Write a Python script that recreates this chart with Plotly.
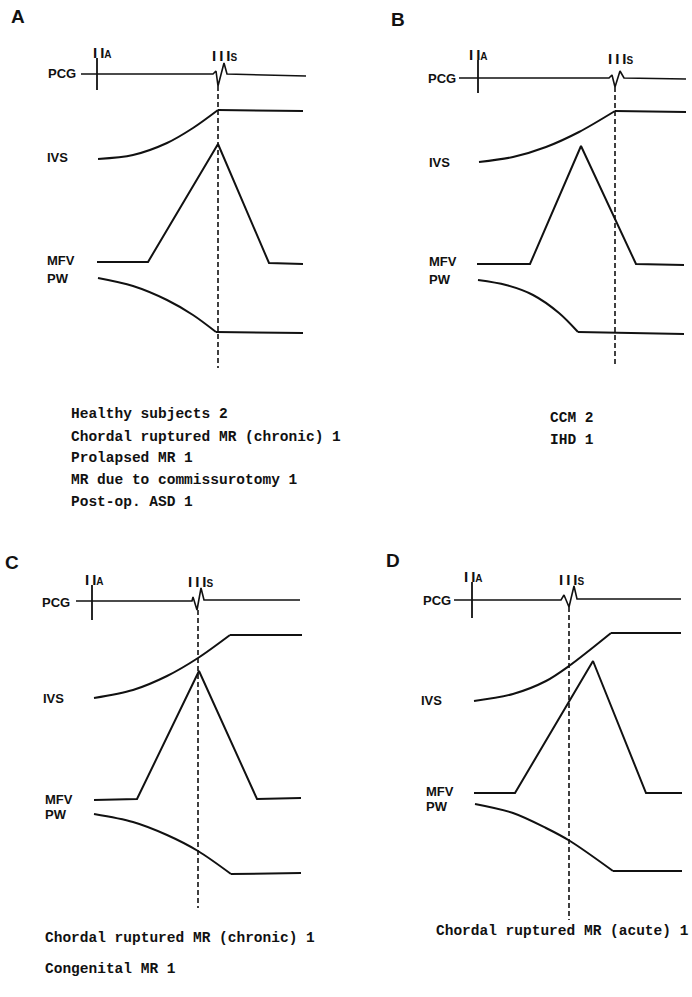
import plotly.graph_objects as go

W, H = 692, 997

# ---------------- data (t: time units after IIA, amp: level relative to PCG baseline) -------------
# Panel A
A_pcg_t = [-16, 116, 119, 121, 127, 130, 209]
A_pcg_a = [0, 0, 3, -12, 11, 0, -2]
A_ivs_t = [1, 36, 70, 96, 121, 206]
A_ivs_a = [-85, -81, -69, -54, -36, -37]
A_mfv_t = [0, 51, 121, 172, 206]
A_mfv_a = [-188, -188, -70, -189, -190]
A_pw_t = [1, 36, 70, 96, 119, 206]
A_pw_a = [-204, -212, -226, -241, -258, -259]
A_iiis_t = 121
A_iia_span = [16, -16]
A_dash_span = [-12, -294]

# Panel B
B_pcg_t = [-19, 131, 134, 137, 142, 146, 208]
B_pcg_a = [0, 0, 3, -9, 7, 0, -1]
B_ivs_t = [1, 35, 68, 101, 137, 208]
B_ivs_a = [-84, -79, -69, -54, -33, -34]
B_mfv_t = [-1, 52, 103, 158, 206]
B_mfv_a = [-186, -186, -68, -186, -187]
B_pw_t = [0, 28, 55, 81, 100, 206]
B_pw_a = [-202, -207, -217, -235, -254, -256]
B_iiis_t = 137
B_iia_span = [18, -15]
B_dash_span = [-9, -287]

# Panel C
C_pcg_t = [-16, 100, 101, 105, 109, 112, 208]
C_pcg_a = [0, 0, 4, -9, 13, 1, 1]
C_ivs_t = [2, 41, 75, 106, 138, 210]
C_ivs_a = [-97, -89, -75, -57, -34, -34]
C_mfv_t = [2, 45, 107, 165, 209]
C_mfv_a = [-199, -198, -70, -198, -197]
C_pw_t = [2, 41, 75, 106, 139, 209]
C_pw_a = [-213, -221, -234, -250, -273, -272]
C_iiis_t = 106
C_iia_span = [16, -19]
C_dash_span = [-9, -307]

# Panel D
D_pcg_t = [-18, 89, 92, 97, 102, 105, 209]
D_pcg_a = [0, 0, 5, -7, 14, 1, 1]
D_ivs_t = [2, 41, 74, 97, 139, 209]
D_ivs_a = [-101, -94, -81, -66, -33, -33]
D_mfv_t = [2, 43, 121, 174, 210]
D_mfv_a = [-193, -193, -61, -193, -193]
D_pw_t = [3, 41, 74, 98, 141, 210]
D_pw_a = [-204, -213, -228, -241, -271, -271]
D_iiis_t = 97
D_iia_span = [18, -18]
D_dash_span = [-7, -320]

A_cases = ["Healthy subjects 2", "Chordal ruptured MR (chronic) 1", "Prolapsed MR 1",
           "MR due to commissurotomy 1", "Post-op. ASD 1"]
B_cases = ["CCM 2", "IHD 1"]
C_cases = ["Chordal ruptured MR (chronic) 1", "Congenital MR 1"]
D_cases = ["Chordal ruptured MR (acute) 1"]

# ---------------- layout helpers -------------
fig = go.Figure()
INK = "#111111"
SANS = "Liberation Sans, Arial, sans-serif"
MONO = "Liberation Mono, Courier New, monospace"

panels = [
    ("A", (97, 74), (0, 346, 0, 520),
     A_pcg_t, A_pcg_a, A_ivs_t, A_ivs_a, A_mfv_t, A_mfv_a, A_pw_t, A_pw_a, A_iiis_t, A_iia_span, A_dash_span),
    ("B", (478, 78), (346, 692, 0, 520),
     B_pcg_t, B_pcg_a, B_ivs_t, B_ivs_a, B_mfv_t, B_mfv_a, B_pw_t, B_pw_a, B_iiis_t, B_iia_span, B_dash_span),
    ("C", (92, 601), (0, 346, 520, 997),
     C_pcg_t, C_pcg_a, C_ivs_t, C_ivs_a, C_mfv_t, C_mfv_a, C_pw_t, C_pw_a, C_iiis_t, C_iia_span, C_dash_span),
    ("D", (472, 600), (346, 692, 520, 997),
     D_pcg_t, D_pcg_a, D_ivs_t, D_ivs_a, D_mfv_t, D_mfv_a, D_pw_t, D_pw_a, D_iiis_t, D_iia_span, D_dash_span),
]

layout_axes = {}
for i, (name, (ox, oy), (x0, x1, y0, y1), pt, pa, it, ia, mt, ma, wt, wa, st, iia, dsh) in enumerate(panels):
    n = "" if i == 0 else str(i + 1)
    xa, ya = "x" + n, "y" + n
    layout_axes["xaxis" + n] = dict(domain=[x0 / W, x1 / W], range=[x0 - ox, x1 - ox],
                                    visible=False, fixedrange=True, anchor=ya)
    layout_axes["yaxis" + n] = dict(domain=[1 - y1 / H, 1 - y0 / H], range=[oy - y1, oy - y0],
                                    visible=False, fixedrange=True, anchor=xa)
    common = dict(mode="lines", xaxis=xa, yaxis=ya, hoverinfo="skip", showlegend=False)
    curve = dict(color=INK, width=2, shape="spline", smoothing=0.9)
    straight = dict(color=INK, width=2)
    # PCG trace with IIIs wiggle
    fig.add_trace(go.Scatter(x=pt, y=pa, line=dict(color=INK, width=1.6), **common))
    # IIA tick
    fig.add_trace(go.Scatter(x=[0, 0], y=iia, line=dict(color=INK, width=1.8), **common))
    # IVS: curved rise then plateau
    fig.add_trace(go.Scatter(x=it[:-1], y=ia[:-1], line=curve, **common))
    fig.add_trace(go.Scatter(x=it[-2:], y=ia[-2:], line=straight, **common))
    # MFV
    fig.add_trace(go.Scatter(x=mt, y=ma, line=straight, **common))
    # PW: curved fall then plateau
    fig.add_trace(go.Scatter(x=wt[:-1], y=wa[:-1], line=curve, **common))
    fig.add_trace(go.Scatter(x=wt[-2:], y=wa[-2:], line=straight, **common))
    # IIIs dashed marker
    fig.add_trace(go.Scatter(x=[st, st], y=dsh, line=dict(color=INK, width=1.6, dash="5px,3px"), **common))


def px(x, y):
    return x / W, 1 - y / H


annos = []


def label(text, x, y, size=13, anchor="left", family=SANS):
    ax, ay = px(x, y)
    annos.append(dict(text=text, x=ax, y=ay, xref="paper", yref="paper", showarrow=False,
                      xanchor=anchor, yanchor="middle", borderpad=0,
                      font=dict(family=family, size=size, color=INK)))


IIA = '<b>I\u2009I<span style="font-size:10px">A</span></b>'
IIIS = '<b>I\u2009I\u2009I<span style="font-size:10px">S</span></b>'

label_pos = {
    "A": dict(letter=(18, 16), pcg=(77, 74), iia=(92, 53), iiis=(211, 55), ivs=(46, 158), mfv=(46, 260), pw=(46, 278)),
    "B": dict(letter=(398, 19), pcg=(457, 78), iia=(468, 54), iiis=(607, 58), ivs=(428, 162), mfv=(428, 262), pw=(428, 280)),
    "C": dict(letter=(12, 562), pcg=(71, 602), iia=(84, 579), iiis=(187, 581), ivs=(42, 698), mfv=(44, 799), pw=(44, 814)),
    "D": dict(letter=(393, 560), pcg=(452, 600), iia=(463, 576), iiis=(558, 579), ivs=(420, 700), mfv=(425, 791), pw=(425, 806)),
}
for name, p in label_pos.items():
    label("<b>%s</b>" % name, *p["letter"], size=19, anchor="center")
    label("<b>PCG</b>", *p["pcg"], anchor="right")
    label(IIA, *p["iia"], size=15)
    label(IIIS, *p["iiis"], size=15)
    label("<b>IVS</b>", *p["ivs"])
    label("<b>MFV</b>", *p["mfv"])
    label("<b>PW</b>", *p["pw"])

case_pos = [(A_cases, 70, [414, 437, 458, 480, 502]),
            (B_cases, 549, [418, 440]),
            (C_cases, 44, [938, 969]),
            (D_cases, 435, [931])]
for cases, x, ys in case_pos:
    for txt, y in zip(cases, ys):
        label("<b>%s</b>" % txt, x, y, size=14.5, family=MONO)

fig.update_layout(width=W, height=H, margin=dict(l=0, r=0, t=0, b=0),
                  paper_bgcolor="white", plot_bgcolor="rgba(0,0,0,0)",
                  annotations=annos, **layout_axes)

fig.write_html("out.html", config={"displayModeBar": False},
               post_script="document.body.style.margin='0px';")
